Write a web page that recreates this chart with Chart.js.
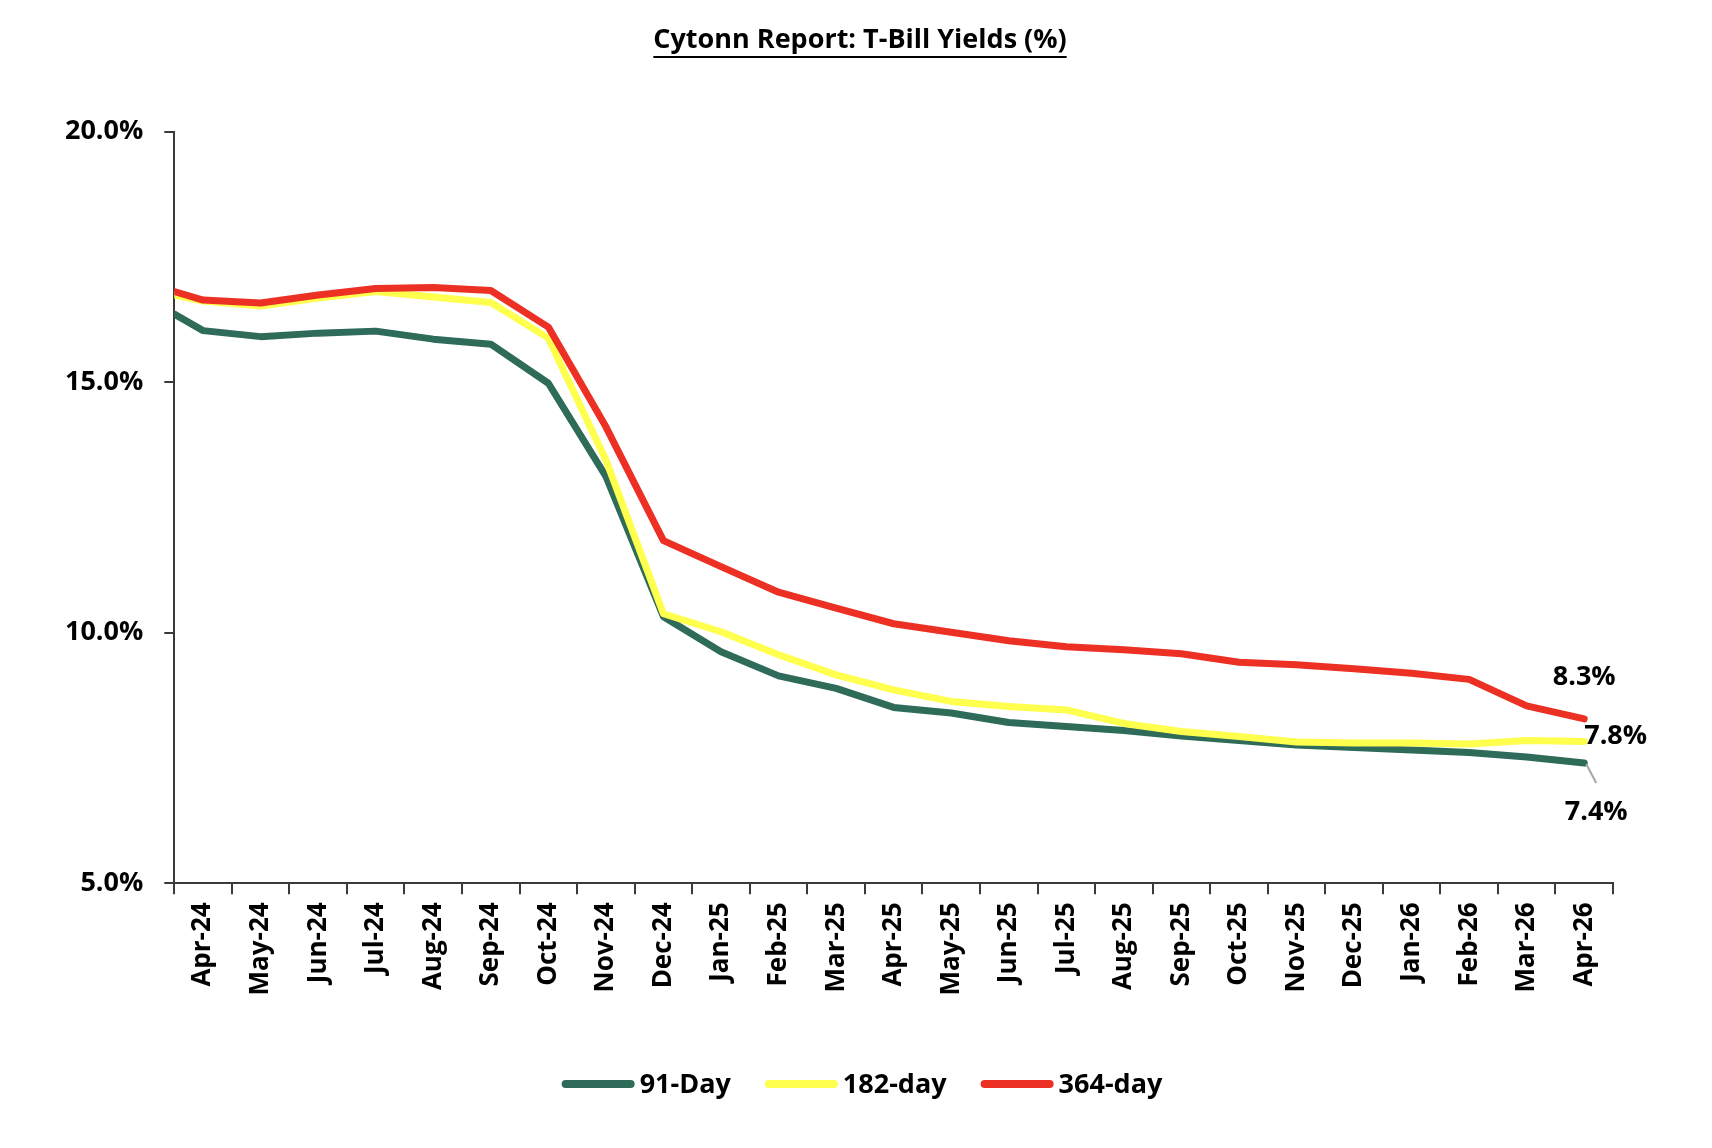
<!DOCTYPE html>
<html>
<head>
<meta charset="utf-8">
<title>Cytonn Report: T-Bill Yields (%)</title>
<script src="https://cdn.jsdelivr.net/npm/chart.js@4.4.1/dist/chart.umd.min.js"></script>
<style>
    html, body { margin: 0; padding: 0; background: #ffffff; }
    #wrap { width: 1712px; height: 1148px; }
</style>
</head>
<body>
<div id="wrap"><canvas id="tbillChart" width="1712" height="1148"></canvas></div>
<script>
// ------------------------------------------------------------------
// DATA
// ------------------------------------------------------------------
const AYLAR = [
    "Apr-24","May-24","Jun-24","Jul-24","Aug-24","Sep-24","Oct-24","Nov-24","Dec-24",
    "Jan-25","Feb-25","Mar-25","Apr-25","May-25","Jun-25","Jul-25","Aug-25","Sep-25",
    "Oct-25","Nov-25","Dec-25","Jan-26","Feb-26","Mar-26","Apr-26"
];

// position of each reading on the month axis (first reading sits on the axis edge)
const NOKTA_X = [
    -0.5, 0, 1, 2, 3, 4, 5, 6, 7, 8, 9, 10, 11, 12,
    13, 14, 15, 16, 17, 18, 19, 20, 21, 22, 23, 24
];

const GUN_91 = [
    16.36, 16.03, 15.91, 15.98, 16.02, 15.86, 15.76, 14.98, 13.12, 10.32,
    9.62, 9.14, 8.89, 8.51, 8.40, 8.21, 8.13, 8.05, 7.94, 7.85,
    7.76, 7.71, 7.66, 7.61, 7.52, 7.40
];

const GUN_182 = [
    16.74, 16.62, 16.52, 16.68, 16.81, 16.70, 16.59, 15.88, 13.45, 10.38,
    10.02, 9.56, 9.16, 8.86, 8.63, 8.53, 8.46, 8.19, 8.03, 7.93,
    7.82, 7.80, 7.80, 7.78, 7.85, 7.83
];

const GUN_364 = [
    16.81, 16.64, 16.58, 16.74, 16.87, 16.89, 16.83, 16.10, 14.11, 11.84,
    11.32, 10.81, 10.49, 10.18, 10.01, 9.84, 9.72, 9.66, 9.58, 9.41,
    9.36, 9.28, 9.19, 9.07, 8.54, 8.28
];

const SERI_ADLARI = ["91-Day", "182-day", "364-day"];
const SERI_RENK   = ["#2E6B59", "#FFFF4D", "#EC3124"];
const Y_TICKS     = [5, 10, 15, 20];

const FONT = "'Open Sans', 'Noto Sans', sans-serif";

// ------------------------------------------------------------------
function noktalar(seri) {
    return seri.map((v, i) => ({ x: NOKTA_X[i], y: v }));
}

// ------------------------------------------------------------------
// title (underlined), custom legend and end labels
// ------------------------------------------------------------------
const ekstraCizim = {
    id: "ekstraCizim",
    afterDraw(chart) {
        const ctx = chart.ctx;
        ctx.save();

        // title
        const baslik = "Cytonn Report: T-Bill Yields (%)";
        ctx.font = `bold 27px ${FONT}`;
        ctx.fillStyle = "#000";
        ctx.textAlign = "center";
        ctx.textBaseline = "alphabetic";
        const bx = 860, by = 48;
        ctx.fillText(baslik, bx, by);
        const bw = ctx.measureText(baslik).width;
        ctx.fillRect(bx - bw / 2, by + 8, bw, 2);

        // end labels on last point of each series
        const son = chart.data.datasets[0].data.length - 1;
        const p91  = chart.getDatasetMeta(0).data[son];
        const p182 = chart.getDatasetMeta(1).data[son];
        const p364 = chart.getDatasetMeta(2).data[son];

        ctx.font = `bold 27px ${FONT}`;
        ctx.textBaseline = "middle";

        ctx.textAlign = "center";
        ctx.fillText(GUN_364[son].toFixed(1) + "%", p364.x, p364.y - 42);

        ctx.textAlign = "left";
        ctx.fillText(GUN_182[son].toFixed(1) + "%", p182.x, p182.y - 5);

        ctx.strokeStyle = "#A6A6A6";
        ctx.lineWidth = 2;
        ctx.beginPath();
        ctx.moveTo(p91.x + 2, p91.y + 1);
        ctx.lineTo(p91.x + 12, p91.y + 20);
        ctx.stroke();
        ctx.textAlign = "center";
        ctx.fillText(GUN_91[son].toFixed(1) + "%", p91.x + 12, p91.y + 49);

        // legend
        const ornekW = 73, bosluk = 5, araW = 34, ly = 1084;
        ctx.font = `bold 27px ${FONT}`;
        const genislik = SERI_ADLARI.map(a => ornekW + bosluk + ctx.measureText(a).width);
        const toplam = genislik.reduce((a, b) => a + b, 0) + araW * (SERI_ADLARI.length - 1);
        let lx = 862 - toplam / 2;
        ctx.textAlign = "left";
        ctx.textBaseline = "middle";
        ctx.lineCap = "round";
        SERI_ADLARI.forEach((ad, i) => {
            ctx.strokeStyle = SERI_RENK[i];
            ctx.lineWidth = 8;
            ctx.beginPath();
            ctx.moveTo(lx + 4, ly);
            ctx.lineTo(lx + ornekW - 4, ly);
            ctx.stroke();
            ctx.fillStyle = "#000";
            ctx.fillText(ad, lx + ornekW + bosluk, ly + 1);
            lx += genislik[i] + araW;
        });

        ctx.restore();
    }
};

// ------------------------------------------------------------------
function grafikCiz() {
    const ctx = document.getElementById("tbillChart").getContext("2d");
    const seriler = [GUN_91, GUN_182, GUN_364];

    new Chart(ctx, {
        type: "line",
        data: {
            datasets: seriler.map((s, i) => ({
                label: SERI_ADLARI[i],
                data: noktalar(s),
                borderColor: SERI_RENK[i],
                backgroundColor: SERI_RENK[i],
                borderWidth: 7,
                pointRadius: 0,
                tension: 0,
                borderJoinStyle: "round",
                borderCapStyle: "round",
                order: 2 - i,
                xAxisID: "x",
                yAxisID: "y"
            }))
        },
        options: {
            responsive: false,
            animation: false,
            devicePixelRatio: 1,
            layout: {
                padding: { left: 0, right: 99, top: 131.7, bottom: 124.7 }
            },
            plugins: {
                legend: { display: false },
                title: { display: false },
                tooltip: { enabled: false }
            },
            scales: {
                x: {
                    type: "linear",
                    display: false,
                    min: -0.5,
                    max: 24.5
                },
                ay: {
                    type: "category",
                    position: "bottom",
                    labels: AYLAR,
                    offset: true,
                    grid: {
                        offset: true,
                        drawOnChartArea: false,
                        tickLength: 11,
                        lineWidth: 2,
                        color: "#3A3A3A"
                    },
                    border: { color: "#3A3A3A", width: 2 },
                    ticks: {
                        autoSkip: false,
                        minRotation: 90,
                        maxRotation: 90,
                        padding: 8,
                        color: "#000",
                        font: { family: FONT, size: 26, weight: "bold" }
                    },
                    afterFit(scale) { scale.height = 140; }
                },
                y: {
                    min: 5,
                    max: 20,
                    afterBuildTicks(scale) {
                        scale.ticks = Y_TICKS.map(v => ({ value: v }));
                    },
                    grid: {
                        drawOnChartArea: false,
                        tickLength: 10,
                        lineWidth: 2,
                        color: "#3A3A3A"
                    },
                    border: { color: "#3A3A3A", width: 2 },
                    ticks: {
                        padding: 21,
                        color: "#000",
                        font: { family: FONT, size: 27, weight: "bold" },
                        callback: v => v.toFixed(1) + "%"
                    },
                    afterFit(scale) { scale.width = 174.3; }
                }
            }
        },
        plugins: [ekstraCizim]
    });
}

document.addEventListener("DOMContentLoaded", grafikCiz);
</script>
</body>
</html>
